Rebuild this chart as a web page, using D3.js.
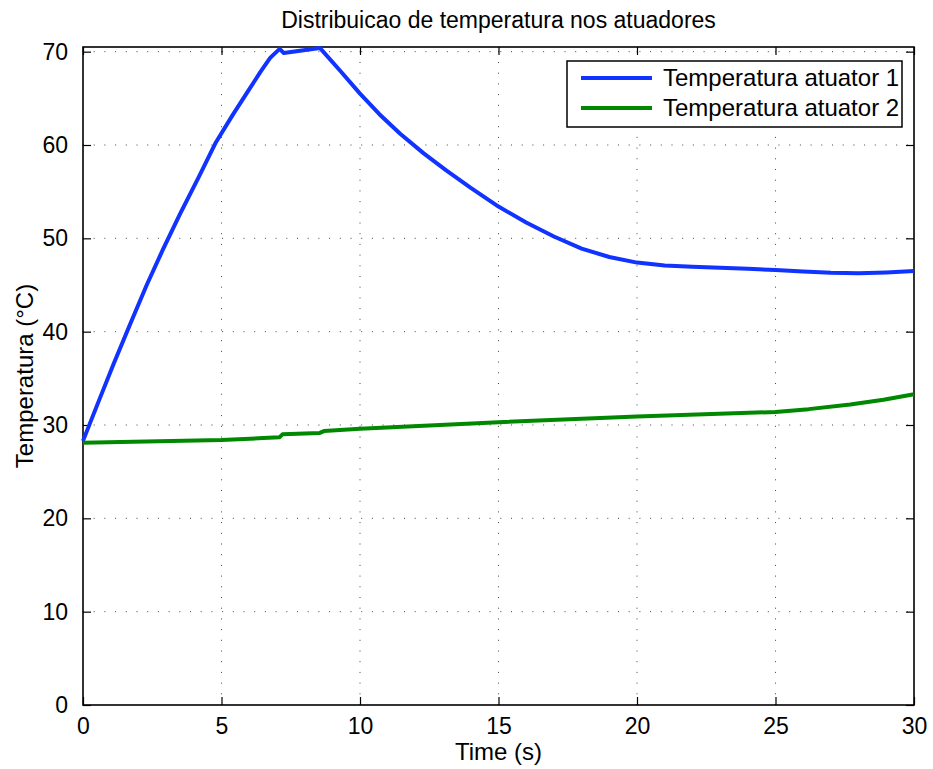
<!DOCTYPE html>
<html>
  <head>
    <meta charset="utf-8">
    <title>Distribuicao de temperatura</title>
    <script src="https://cdn.jsdelivr.net/npm/d3@7"></script>
    <style>
      body { margin: 0; background: #fff; }
      text { font-family: "Liberation Sans", Arial, Helvetica, sans-serif; fill: #000; }
    </style>
  </head>
  <body>
    <div id="chart"></div>
    <script>
      // data
      var timeAct1 = [0, 0.6, 1.1, 1.7, 2.3, 2.9, 3.5, 4.2, 4.8, 5.4, 5.9, 6.4, 6.75, 6.85, 7.1, 7.25, 8.55, 9.3, 10, 10.7, 11.45, 12.3, 13.1, 14, 15, 16, 17, 18, 19, 20, 21, 22, 23, 24, 25, 26, 27, 28, 29, 30];
      var tempAct1 = [28.3, 32.8, 36.5, 40.8, 45.0, 48.9, 52.6, 56.7, 60.3, 63.2, 65.5, 67.8, 69.3, 69.6, 70.3, 69.85, 70.4, 67.9, 65.5, 63.3, 61.2, 59.1, 57.3, 55.4, 53.4, 51.7, 50.2, 48.9, 48.0, 47.4, 47.1, 46.95, 46.85, 46.75, 46.6, 46.45, 46.3, 46.25, 46.35, 46.5];
      var timeAct2 = [0, 5, 6.5, 7.1, 7.2, 8.55, 8.7, 10, 15, 20, 25, 26.2, 27.7, 28.9, 30];
      var tempAct2 = [28.1, 28.4, 28.6, 28.7, 29.0, 29.15, 29.35, 29.6, 30.3, 30.9, 31.4, 31.7, 32.2, 32.7, 33.3];
      var xTicks = [0, 5, 10, 15, 20, 25, 30];
      var yTicks = [0, 10, 20, 30, 40, 50, 60, 70];
      var seriesNames = ["Temperatura atuator 1", "Temperatura atuator 2"];
      var seriesColors = ["#1033ff", "#008800"];

      var width = 933, height = 769;
      var margin = { top: 47, right: 19, bottom: 64, left: 83 };
      var w = width - margin.left - margin.right;
      var h = height - margin.top - margin.bottom;

      var svg = d3.select("#chart").append("svg")
        .attr("width", width)
        .attr("height", height);
      var g = svg.append("g")
        .attr("transform", "translate(" + margin.left + "," + margin.top + ")");

      var x = d3.scaleLinear().domain([0, 30]).range([0, w]);
      var y = d3.scaleLinear().domain([0, 70.5]).range([h, 0]);

      // dotted grid
      g.selectAll(".vgrid")
          .data(xTicks.slice(1, -1))
        .enter().append("line")
          .attr("x1", function(d) { return x(d); })
          .attr("x2", function(d) { return x(d); })
          .attr("y1", h).attr("y2", 0)
          .attr("stroke", "#444").attr("stroke-width", 1)
          .attr("stroke-dasharray", "1,9.7");
      g.selectAll(".hgrid")
          .data(yTicks.slice(1))
        .enter().append("line")
          .attr("y1", function(d) { return y(d); })
          .attr("y2", function(d) { return y(d); })
          .attr("x1", 0).attr("x2", w)
          .attr("stroke", "#444").attr("stroke-width", 1)
          .attr("stroke-dasharray", "1,9.7");

      // axes with inward ticks on all sides
      var tickFont = "23px";
      var xBottom = g.append("g")
        .attr("transform", "translate(0," + h + ")")
        .call(d3.axisBottom(x).tickValues(xTicks).tickSize(-8).tickPadding(13));
      var xTop = g.append("g")
        .call(d3.axisTop(x).tickValues(xTicks).tickSize(-8).tickFormat(""));
      var yLeft = g.append("g")
        .call(d3.axisLeft(y).tickValues(yTicks).tickSize(-8).tickPadding(15));
      var yRight = g.append("g")
        .attr("transform", "translate(" + w + ",0)")
        .call(d3.axisRight(y).tickValues(yTicks).tickSize(-8).tickFormat(""));
      [xBottom, xTop, yLeft, yRight].forEach(function(a) {
        a.select(".domain").remove();
        a.selectAll(".tick line").attr("stroke", "#000").attr("stroke-width", 1.2);
        a.selectAll("text").style("font-size", tickFont).attr("fill", "#000");
      });

      // box
      g.append("rect")
        .attr("width", w).attr("height", h)
        .attr("fill", "none").attr("stroke", "#000").attr("stroke-width", 1.6);

      // lines
      var line = d3.line()
        .x(function(d) { return x(d[0]); })
        .y(function(d) { return y(d[1]); });
      var series = [
        d3.zip(timeAct1, tempAct1),
        d3.zip(timeAct2, tempAct2)
      ];
      g.selectAll(".series")
          .data(series)
        .enter().append("path")
          .attr("d", line)
          .attr("fill", "none")
          .attr("stroke", function(d, i) { return seriesColors[i]; })
          .attr("stroke-width", 4)
          .attr("stroke-linejoin", "round");

      // legend
      var legend = svg.append("g").attr("transform", "translate(567,61)");
      legend.append("rect")
        .attr("width", 335).attr("height", 66)
        .attr("fill", "#fff").attr("stroke", "#000").attr("stroke-width", 1.5);
      seriesNames.forEach(function(name, i) {
        var ly = 17 + i * 30;
        legend.append("line")
          .attr("x1", 14).attr("x2", 85)
          .attr("y1", ly).attr("y2", ly)
          .attr("stroke", seriesColors[i]).attr("stroke-width", 4);
        legend.append("text")
          .attr("x", 96).attr("y", ly)
          .attr("dy", "0.35em")
          .style("font-size", "24px")
          .text(name);
      });

      // titles
      svg.append("text")
        .attr("x", margin.left + w / 2).attr("y", 28)
        .attr("text-anchor", "middle")
        .style("font-size", "23px")
        .text("Distribuicao de temperatura nos atuadores");
      svg.append("text")
        .attr("x", margin.left + w / 2).attr("y", 760)
        .attr("text-anchor", "middle")
        .style("font-size", "24px")
        .text("Time (s)");
      svg.append("text")
        .attr("transform", "translate(33," + (margin.top + h / 2) + ") rotate(-90)")
        .attr("text-anchor", "middle")
        .style("font-size", "24px")
        .text("Temperatura (°C)");
    </script>
  </body>
</html>
